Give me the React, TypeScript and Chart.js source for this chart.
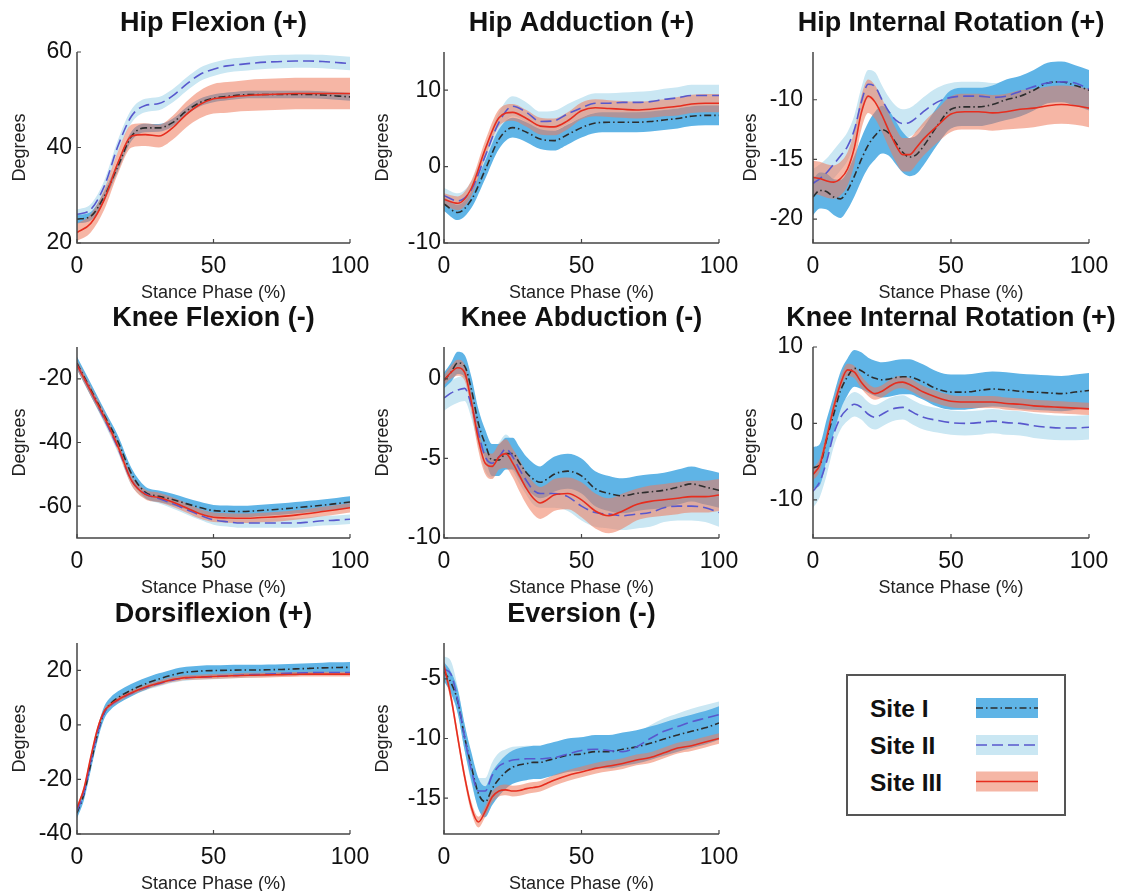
import React, { useEffect, useRef } from "react";
import { Chart, registerables } from "chart.js";

Chart.register(...registerables);
const FONT_FAMILY = "'Liberation Sans', Arial, Helvetica, sans-serif";
Chart.defaults.font.family = FONT_FAMILY;

// ---------- x grids ----------
const X5 = [0, 5, 10, 15, 20, 25, 30, 35, 40, 45, 50, 55, 60, 65, 70, 75, 80, 85, 90, 95, 100];
const XF = [0, 2.5, 5, 7.5, 10, 12.5, 15, 17.5, 20, 22.5, 25, 27.5, 30, 32.5, 35, 37.5, 40, 45, 50, 55, 60, 65, 70, 75, 80, 85, 90, 95, 100];
const X_TICKS = [0, 50, 100];

// ---------- Hip Flexion (X5) ----------
const HF_I = [25.0, 25.6, 29.8, 36.1, 42.4, 44.1, 44.1, 45.2, 47.6, 49.4, 50.3, 50.7, 51.0, 51.1, 51.1, 51.1, 51.1, 51.1, 51.0, 50.8, 50.6];
const HF_I_SD = [0.9, 0.9, 1.0, 1.0, 1.0, 0.9, 0.8, 0.8, 0.8, 0.8, 0.8, 0.8, 0.8, 0.8, 0.8, 0.8, 0.8, 0.8, 0.8, 0.8, 0.8];
const HF_II = [26.0, 27.0, 31.9, 40.3, 46.6, 48.8, 49.2, 50.8, 53.2, 55.3, 56.4, 57.1, 57.4, 57.7, 57.9, 58.0, 58.1, 58.1, 58.0, 57.8, 57.6];
const HF_II_SD = [1.0, 1.1, 1.2, 1.3, 1.4, 1.4, 1.4, 1.4, 1.4, 1.4, 1.4, 1.4, 1.4, 1.4, 1.4, 1.4, 1.4, 1.4, 1.4, 1.4, 1.4];
const HF_III = [22.2, 24.1, 29.1, 36.8, 42.4, 42.7, 42.4, 44.1, 46.9, 49.0, 50.2, 50.5, 50.8, 51.0, 51.1, 51.2, 51.3, 51.3, 51.3, 51.3, 51.3];
const HF_III_SD = [1.8, 1.9, 2.1, 2.3, 2.4, 2.4, 2.4, 2.5, 2.7, 2.9, 3.1, 3.2, 3.2, 3.3, 3.3, 3.3, 3.3, 3.3, 3.3, 3.3, 3.3];

// ---------- Hip Adduction (X5) ----------
const HA_I = [-4.9, -6.0, -4.3, -0.4, 3.6, 5.1, 4.5, 3.6, 3.4, 4.2, 5.1, 5.7, 5.8, 5.8, 5.8, 5.9, 6.1, 6.3, 6.6, 6.7, 6.7];
const HA_I_SD = [0.9, 1.0, 1.1, 1.2, 1.3, 1.3, 1.3, 1.3, 1.3, 1.3, 1.3, 1.3, 1.3, 1.3, 1.3, 1.3, 1.3, 1.3, 1.3, 1.3, 1.3];
const HA_II = [-3.8, -4.5, -3.0, 1.4, 5.8, 7.9, 7.1, 5.9, 6.0, 6.9, 7.7, 8.3, 8.3, 8.4, 8.4, 8.5, 8.8, 9.0, 9.3, 9.3, 9.3];
const HA_II_SD = [1.0, 1.0, 1.1, 1.2, 1.3, 1.3, 1.3, 1.3, 1.3, 1.3, 1.3, 1.3, 1.3, 1.3, 1.4, 1.4, 1.4, 1.4, 1.4, 1.4, 1.4];
const HA_III = [-4.3, -4.8, -2.8, 2.3, 6.4, 7.1, 6.3, 5.3, 5.2, 6.0, 7.3, 7.7, 7.6, 7.5, 7.4, 7.5, 7.7, 7.9, 8.2, 8.3, 8.3];
const HA_III_SD = [0.8, 0.9, 1.0, 1.1, 1.1, 1.1, 1.1, 1.1, 1.1, 1.1, 1.1, 1.1, 1.1, 1.1, 1.1, 1.1, 1.1, 1.2, 1.2, 1.2, 1.2];

// ---------- Hip Internal Rotation (XF) ----------
const HR_I = [-18.15, -17.6, -17.7, -18.15, -18.3, -17.6, -16.4, -15.0, -13.8, -13.0, -12.5, -12.8, -13.6, -14.4, -14.8, -14.6, -13.9, -12.2, -10.8, -10.6, -10.6, -10.4, -10.0, -9.7, -9.2, -8.6, -8.5, -8.8, -9.2];
const HR_I_SD = [1.5, 1.5, 1.5, 1.5, 1.6, 1.6, 1.7, 1.8, 1.9, 2.0, 2.0, 1.9, 1.8, 1.7, 1.6, 1.6, 1.6, 1.6, 1.6, 1.6, 1.6, 1.6, 1.7, 1.7, 1.7, 1.7, 1.7, 1.7, 1.7];
const HR_II = [-17.0, -16.6, -16.1, -15.4, -14.7, -13.9, -12.5, -10.2, -8.7, -8.9, -10.0, -11.0, -11.7, -12.0, -11.9, -11.5, -11.0, -10.2, -9.8, -9.7, -9.7, -9.8, -9.7, -9.3, -8.9, -8.6, -8.5, -8.6, -9.1];
const HR_II_SD = [1.2, 1.2, 1.2, 1.2, 1.2, 1.2, 1.2, 1.2, 1.2, 1.2, 1.2, 1.2, 1.2, 1.2, 1.2, 1.2, 1.2, 1.2, 1.2, 1.2, 1.2, 1.2, 1.2, 1.2, 1.2, 1.2, 1.2, 1.2, 1.2];
const HR_III = [-16.5, -16.6, -16.8, -16.9, -16.6, -15.8, -14.0, -11.1, -9.7, -10.2, -11.3, -12.6, -13.8, -14.6, -14.6, -14.0, -13.3, -12.2, -11.2, -11.0, -11.0, -11.1, -11.0, -10.8, -10.7, -10.5, -10.4, -10.5, -10.7];
const HR_III_SD = [1.4, 1.4, 1.4, 1.4, 1.4, 1.4, 1.4, 1.4, 1.4, 1.4, 1.4, 1.4, 1.4, 1.4, 1.4, 1.4, 1.4, 1.4, 1.5, 1.5, 1.5, 1.5, 1.5, 1.6, 1.6, 1.6, 1.6, 1.6, 1.6];

// ---------- Knee Flexion (X5) ----------
const KF_I = [-15.1, -23.3, -31.5, -39.7, -49.9, -55.6, -56.9, -57.9, -59.2, -60.4, -61.4, -61.6, -61.7, -61.5, -61.2, -60.9, -60.5, -60.1, -59.7, -59.2, -58.7];
const KF_I_SD = [2.0, 2.0, 1.9, 1.9, 1.8, 1.8, 1.8, 1.8, 1.8, 1.8, 1.8, 1.8, 1.8, 1.8, 1.8, 1.8, 1.8, 1.8, 1.8, 1.8, 1.8];
const KF_II = [-15.6, -23.8, -32.5, -41.7, -52.0, -56.1, -57.6, -59.2, -61.0, -62.8, -64.3, -64.9, -65.3, -65.3, -65.3, -65.3, -65.3, -65.0, -64.6, -64.4, -64.1];
const KF_II_SD = [1.5, 1.5, 1.5, 1.5, 1.5, 1.5, 1.5, 1.5, 1.5, 1.5, 1.5, 1.5, 1.5, 1.5, 1.5, 1.5, 1.5, 1.5, 1.5, 1.5, 1.5];
const KF_III = [-15.6, -23.8, -32.0, -41.2, -52.0, -56.3, -57.3, -58.7, -60.5, -62.4, -63.5, -63.7, -63.8, -63.7, -63.5, -63.2, -62.8, -62.3, -61.7, -61.1, -60.5];
const KF_III_SD = [1.5, 1.5, 1.5, 1.5, 1.5, 1.5, 1.5, 1.5, 1.5, 1.5, 1.5, 1.5, 1.5, 1.5, 1.5, 1.5, 1.5, 1.5, 1.5, 1.5, 1.5];

// ---------- Knee Abduction (XF) ----------
const KA_I = [-0.1, 0.4, 1.0, 0.8, -0.7, -2.8, -4.1, -5.1, -5.1, -4.7, -4.7, -5.3, -5.9, -6.3, -6.5, -6.3, -6.0, -5.8, -6.1, -6.9, -7.2, -7.35, -7.2, -7.1, -7.0, -6.8, -6.6, -6.8, -7.0];
const KA_I_SD = [0.5, 0.6, 0.7, 0.7, 0.8, 0.9, 0.9, 1.0, 1.0, 1.0, 1.0, 1.0, 1.0, 1.0, 1.0, 1.1, 1.1, 1.1, 1.1, 1.1, 1.1, 1.1, 1.1, 1.1, 1.1, 1.1, 1.1, 1.1, 1.1];
const KA_II = [-1.2, -0.9, -0.7, -0.6, -1.7, -3.4, -4.9, -5.3, -4.9, -4.4, -4.9, -5.7, -6.4, -7.0, -7.2, -7.2, -7.2, -7.4, -8.0, -8.4, -8.5, -8.6, -8.5, -8.4, -8.1, -8.0, -8.0, -8.1, -8.4];
const KA_II_SD = [0.8, 0.8, 0.8, 0.8, 0.8, 0.8, 0.9, 0.9, 0.9, 0.9, 0.9, 0.9, 0.9, 0.9, 0.9, 0.9, 0.9, 0.9, 0.9, 0.9, 0.9, 0.9, 0.9, 0.9, 0.9, 0.9, 0.9, 0.9, 0.9];
const KA_III = [-0.1, 0.4, 0.7, 0.4, -1.5, -3.8, -5.3, -5.5, -4.9, -4.7, -5.3, -6.1, -6.9, -7.5, -7.8, -7.6, -7.3, -7.2, -7.6, -8.3, -8.6, -8.3, -7.9, -7.7, -7.6, -7.5, -7.4, -7.4, -7.3];
const KA_III_SD = [0.3, 0.4, 0.5, 0.5, 0.6, 0.7, 0.7, 0.8, 0.8, 0.9, 0.9, 1.0, 1.0, 1.0, 1.0, 1.0, 1.0, 1.0, 1.1, 1.1, 1.1, 1.1, 1.0, 1.0, 1.0, 1.0, 1.0, 1.0, 1.0];

// ---------- Knee Internal Rotation (XF) ----------
const KR_I = [-5.8, -5.4, -2.0, 1.2, 4.3, 6.1, 7.2, 6.9, 6.3, 5.9, 5.7, 5.8, 6.0, 6.1, 6.1, 5.8, 5.4, 4.5, 4.1, 4.1, 4.3, 4.5, 4.4, 4.2, 4.1, 4.0, 3.9, 4.1, 4.3];
const KR_I_SD = [2.7, 2.7, 2.6, 2.5, 2.5, 2.4, 2.4, 2.4, 2.3, 2.3, 2.3, 2.3, 2.3, 2.3, 2.3, 2.3, 2.3, 2.3, 2.3, 2.3, 2.3, 2.3, 2.3, 2.3, 2.3, 2.3, 2.3, 2.3, 2.3];
const KR_II = [-8.9, -7.6, -4.9, -1.4, 0.8, 1.9, 2.5, 2.1, 1.2, 0.8, 1.2, 1.7, 2.0, 2.1, 1.7, 1.2, 0.8, 0.4, 0.1, 0.0, 0.1, 0.3, 0.1, 0.0, -0.3, -0.5, -0.6, -0.6, -0.5];
const KR_II_SD = [2.2, 2.0, 1.8, 1.7, 1.6, 1.6, 1.6, 1.6, 1.6, 1.6, 1.6, 1.6, 1.6, 1.6, 1.6, 1.6, 1.6, 1.6, 1.6, 1.6, 1.6, 1.6, 1.6, 1.6, 1.6, 1.6, 1.6, 1.6, 1.6];
const KR_III = [-6.7, -5.4, -1.8, 2.1, 5.2, 7.0, 6.7, 5.4, 4.4, 3.9, 4.2, 4.8, 5.3, 5.4, 5.1, 4.6, 4.1, 3.4, 2.9, 2.8, 2.8, 2.8, 2.6, 2.5, 2.3, 2.2, 2.1, 2.0, 1.9];
const KR_III_SD = [0.8, 0.8, 0.8, 0.8, 0.8, 0.8, 0.8, 0.8, 0.8, 0.8, 0.8, 0.8, 0.8, 0.8, 0.8, 0.8, 0.8, 0.8, 0.8, 0.8, 0.8, 0.8, 0.8, 0.8, 0.8, 0.8, 0.8, 0.8, 0.8];

// ---------- Dorsiflexion (XF) ----------
const DF_I = [-32.3, -25.5, -14.5, -3.5, 4.5, 8.0, 10.0, 11.5, 12.8, 14.0, 15.0, 16.0, 16.8, 17.6, 18.3, 18.9, 19.3, 19.7, 19.9, 20.0, 20.1, 20.1, 20.2, 20.3, 20.5, 20.7, 20.9, 21.0, 21.1];
const DF_I_SD = [2.0, 2.2, 2.4, 2.4, 2.3, 2.3, 2.3, 2.3, 2.3, 2.2, 2.2, 2.1, 2.1, 2.0, 2.0, 2.0, 2.0, 2.0, 1.9, 1.9, 1.9, 1.9, 1.9, 1.9, 1.9, 1.9, 1.9, 1.9, 1.9];
const DF_II = [-31.5, -25.0, -13.5, -3.0, 4.5, 7.3, 9.0, 10.4, 11.6, 12.7, 13.6, 14.4, 15.1, 15.8, 16.4, 16.9, 17.2, 17.5, 17.7, 18.0, 18.2, 18.4, 18.6, 18.8, 19.0, 19.1, 19.2, 19.2, 19.2];
const DF_II_SD = [1.0, 1.0, 1.0, 1.0, 1.0, 1.0, 1.0, 1.0, 1.0, 1.0, 1.0, 1.0, 1.0, 1.0, 1.0, 1.0, 1.0, 1.0, 1.0, 1.0, 1.0, 1.0, 1.0, 1.0, 1.0, 1.0, 1.0, 1.0, 1.0];
const DF_III = [-30.5, -23.5, -12.0, -1.5, 5.0, 7.6, 9.2, 10.6, 11.8, 12.9, 13.8, 14.6, 15.3, 16.0, 16.6, 17.0, 17.3, 17.5, 17.7, 17.9, 18.1, 18.2, 18.3, 18.4, 18.5, 18.6, 18.6, 18.6, 18.6];
const DF_III_SD = [0.9, 0.9, 0.9, 0.9, 0.9, 0.9, 0.9, 0.9, 0.9, 0.9, 0.9, 0.9, 0.9, 0.9, 0.9, 0.9, 0.9, 0.9, 0.9, 0.9, 0.9, 0.9, 0.9, 0.9, 0.9, 0.9, 0.9, 0.9, 0.9];

// ---------- Eversion (XF) ----------
const EV_I = [-4.4, -5.3, -6.9, -9.9, -12.4, -14.6, -15.3, -14.2, -13.4, -12.8, -12.4, -12.2, -12.1, -12.0, -12.0, -11.85, -11.7, -11.4, -11.3, -11.1, -11.1, -10.9, -10.7, -10.4, -10.05, -9.7, -9.4, -9.1, -8.7];
const EV_I_SD = [0.8, 0.9, 1.0, 1.1, 1.2, 1.3, 1.3, 1.4, 1.4, 1.4, 1.4, 1.4, 1.4, 1.4, 1.4, 1.4, 1.4, 1.4, 1.4, 1.4, 1.4, 1.4, 1.4, 1.4, 1.4, 1.4, 1.4, 1.4, 1.4];
const EV_II = [-4.2, -4.6, -6.8, -9.9, -12.7, -14.4, -14.4, -13.1, -12.3, -12.0, -11.8, -11.75, -11.7, -11.7, -11.7, -11.65, -11.6, -11.3, -11.0, -10.9, -11.0, -11.1, -10.7, -10.0, -9.4, -9.0, -8.6, -8.3, -8.0];
const EV_II_SD = [1.1, 1.1, 1.1, 1.1, 1.1, 1.1, 1.1, 1.1, 1.1, 1.1, 1.1, 1.1, 1.1, 1.1, 1.1, 1.1, 1.1, 1.1, 1.1, 1.1, 1.1, 1.1, 1.1, 1.1, 1.1, 1.1, 1.1, 1.1, 1.1];
const EV_III = [-3.9, -6.5, -9.9, -13.2, -15.8, -17.0, -16.1, -14.9, -14.4, -14.3, -14.4, -14.35, -14.2, -14.1, -14.0, -13.75, -13.5, -13.1, -12.8, -12.5, -12.3, -12.1, -11.8, -11.6, -11.2, -10.8, -10.6, -10.3, -10.0];
const EV_III_SD = [0.45, 0.45, 0.45, 0.45, 0.45, 0.45, 0.45, 0.45, 0.45, 0.45, 0.45, 0.45, 0.45, 0.45, 0.45, 0.45, 0.45, 0.45, 0.45, 0.45, 0.45, 0.45, 0.45, 0.45, 0.45, 0.45, 0.45, 0.45, 0.45];

// ---------- panel titles and y ticks ----------
const TITLES = [
  "Hip Flexion (+)", "Hip Adduction (+)", "Hip Internal Rotation (+)",
  "Knee Flexion (-)", "Knee Abduction (-)", "Knee Internal Rotation (+)",
  "Dorsiflexion (+)", "Eversion (-)",
];
const Y_TICKS = [
  [20, 40, 60], [-10, 0, 10], [-20, -15, -10],
  [-60, -40, -20], [-10, -5, 0], [-10, 0, 10],
  [-40, -20, 0, 20], [-15, -10, -5],
];
const Y_RANGES = [
  [20, 60], [-10, 15], [-22, -6],
  [-70, -10], [-10, 2], [-15, 10],
  [-40, 30], [-18, -2],
];
const SITE_NAMES = ["Site I", "Site II", "Site III"];
const X_LABEL = "Stance Phase (%)";
const Y_LABEL = "Degrees";

// ---------- styles ----------
const BAND1 = "rgb(95,180,230)";
const BAND2 = "rgb(202,231,243)";
const BAND3 = "rgba(239,122,91,0.55)";
const BAND3_SOLID = "rgb(245,182,165)";
const LINE1 = "rgb(45,45,45)";
const LINE2 = "rgb(88,88,205)";
const LINE3 = "rgb(230,45,30)";
const DASH1 = [7, 3, 1.5, 3];
const DASH2 = [11, 5];
const AXIS_COLOR = "rgb(70,70,70)";
const TEXT_COLOR = "#111";

// layout constants
const ROW_TOP = [0, 295, 591];
const COL_LEFT = [9, 372, 740];
const Y_AXIS_W = [68, 72, 73];
const Y_TICK_PAD = [5, 3, 10];
const PLOT_W = [273, 275, 276];
const TITLE_H = 52;
const TITLE_CY = 24;
const PLOT_H = 191;
const X_AXIS_H = 62;
const RIGHT_PAD = 30;

type Series = { mean: number[]; sd: number[] };
type PanelCfg = { idx: number; x: number[]; s: Series[] };

const PANELS: PanelCfg[] = [
  { idx: 0, x: X5, s: [{ mean: HF_I, sd: HF_I_SD }, { mean: HF_II, sd: HF_II_SD }, { mean: HF_III, sd: HF_III_SD }] },
  { idx: 1, x: X5, s: [{ mean: HA_I, sd: HA_I_SD }, { mean: HA_II, sd: HA_II_SD }, { mean: HA_III, sd: HA_III_SD }] },
  { idx: 2, x: XF, s: [{ mean: HR_I, sd: HR_I_SD }, { mean: HR_II, sd: HR_II_SD }, { mean: HR_III, sd: HR_III_SD }] },
  { idx: 3, x: X5, s: [{ mean: KF_I, sd: KF_I_SD }, { mean: KF_II, sd: KF_II_SD }, { mean: KF_III, sd: KF_III_SD }] },
  { idx: 4, x: XF, s: [{ mean: KA_I, sd: KA_I_SD }, { mean: KA_II, sd: KA_II_SD }, { mean: KA_III, sd: KA_III_SD }] },
  { idx: 5, x: XF, s: [{ mean: KR_I, sd: KR_I_SD }, { mean: KR_II, sd: KR_II_SD }, { mean: KR_III, sd: KR_III_SD }] },
  { idx: 6, x: XF, s: [{ mean: DF_I, sd: DF_I_SD }, { mean: DF_II, sd: DF_II_SD }, { mean: DF_III, sd: DF_III_SD }] },
  { idx: 7, x: XF, s: [{ mean: EV_I, sd: EV_I_SD }, { mean: EV_II, sd: EV_II_SD }, { mean: EV_III, sd: EV_III_SD }] },
];

const pts = (x: number[], y: number[]) => x.map((v, i) => ({ x: v, y: y[i] }));
const lowerOf = (s: Series) => s.mean.map((m, i) => m - s.sd[i]);
const upperOf = (s: Series) => s.mean.map((m, i) => m + s.sd[i]);

// MATLAB-style axes: left + bottom lines with inward ticks
const axesPlugin = {
  id: "matlabAxes",
  afterDatasetsDraw(chart: any) {
    const { ctx, chartArea, scales } = chart;
    const xs = scales.x;
    const ys = scales.y;
    ctx.save();
    ctx.strokeStyle = AXIS_COLOR;
    ctx.lineWidth = 1.5;
    ctx.setLineDash([]);
    ctx.beginPath();
    ctx.moveTo(chartArea.left, chartArea.top);
    ctx.lineTo(chartArea.left, chartArea.bottom);
    ctx.lineTo(chartArea.right, chartArea.bottom);
    ctx.stroke();
    ctx.lineWidth = 1.2;
    ctx.beginPath();
    xs.ticks.forEach((t: any) => {
      const px = xs.getPixelForValue(t.value);
      ctx.moveTo(px, chartArea.bottom);
      ctx.lineTo(px, chartArea.bottom - 4);
    });
    ys.ticks.forEach((t: any) => {
      const py = ys.getPixelForValue(t.value);
      ctx.moveTo(chartArea.left, py);
      ctx.lineTo(chartArea.left + 4, py);
    });
    ctx.stroke();
    ctx.restore();
  },
};

// Panel title centred over the plot area, not squeezed to its width
const panelTitlePlugin = {
  id: "panelTitle",
  afterDraw(chart: any, _args: any, opts: any) {
    const { ctx, chartArea } = chart;
    ctx.save();
    ctx.font = `bold 27px ${FONT_FAMILY}`;
    ctx.fillStyle = TEXT_COLOR;
    ctx.textAlign = "center";
    ctx.textBaseline = "middle";
    ctx.fillText(opts.text, (chartArea.left + chartArea.right) / 2, TITLE_CY);
    ctx.restore();
  },
};

function Panel({ cfg }: { cfg: PanelCfg }) {
  const ref = useRef<HTMLCanvasElement>(null);
  const row = Math.floor(cfg.idx / 3);
  const col = cfg.idx % 3;
  const W = Y_AXIS_W[col];
  const width = W + PLOT_W[col] + RIGHT_PAD;
  const height = TITLE_H + PLOT_H + X_AXIS_H;

  useEffect(() => {
    const [s1, s2, s3] = cfg.s;
    const x = cfg.x;
    const common = { pointRadius: 0, pointHoverRadius: 0, cubicInterpolationMode: "monotone" as const };
    const lineDs = (label: string, s: Series, color: string, dash: number[]) => ({
      ...common, label, data: pts(x, s.mean), borderColor: color, borderWidth: 1.6, borderDash: dash, fill: false,
    });
    const lo = (s: Series) => ({ ...common, label: "", data: pts(x, lowerOf(s)), borderColor: "transparent", borderWidth: 0, fill: false });
    const hi = (s: Series, c: string) => ({ ...common, label: "", data: pts(x, upperOf(s)), borderColor: "transparent", borderWidth: 0, fill: "-1", backgroundColor: c });

    const chart = new Chart(ref.current as HTMLCanvasElement, {
      type: "line",
      data: {
        datasets: [
          lineDs(SITE_NAMES[2], s3, LINE3, []),
          lineDs(SITE_NAMES[1], s2, LINE2, DASH2),
          lineDs(SITE_NAMES[0], s1, LINE1, DASH1),
          lo(s3), hi(s3, BAND3),
          lo(s1), hi(s1, BAND1),
          lo(s2), hi(s2, BAND2),
        ] as any,
      },
      options: {
        animation: false,
        responsive: false,
        events: [],
        layout: { padding: { left: 0, right: RIGHT_PAD, top: TITLE_H, bottom: 0 } },
        plugins: {
          legend: { display: false },
          tooltip: { enabled: false },
          title: { display: false },
          filler: { drawTime: "beforeDatasetsDraw" },
          panelTitle: { text: TITLES[cfg.idx] },
        },
        scales: {
          x: {
            type: "linear",
            min: 0,
            max: 100,
            afterBuildTicks: (s: any) => { s.ticks = X_TICKS.map((v) => ({ value: v })); },
            afterFit: (s: any) => { s.height = X_AXIS_H; },
            grid: { display: false, drawTicks: false },
            border: { display: false },
            ticks: { padding: 10, color: TEXT_COLOR, font: { size: 23 }, maxRotation: 0, autoSkip: false },
            title: { display: true, text: X_LABEL, color: "#222", font: { size: 18 }, padding: { top: 0, bottom: 1 } },
          },
          y: {
            type: "linear",
            min: Y_RANGES[cfg.idx][0],
            max: Y_RANGES[cfg.idx][1],
            afterBuildTicks: (s: any) => { s.ticks = Y_TICKS[cfg.idx].map((v) => ({ value: v })); },
            afterFit: (s: any) => { s.width = W; },
            grid: { display: false, drawTicks: false },
            border: { display: false },
            ticks: { padding: Y_TICK_PAD[col], color: TEXT_COLOR, font: { size: 23 }, autoSkip: false },
            title: { display: true, text: Y_LABEL, color: "#222", font: { size: 18 }, padding: { top: 0, bottom: 0 } },
          },
        },
      } as any,
      plugins: [axesPlugin, panelTitlePlugin],
    });
    return () => chart.destroy();
  }, []);

  return (
    <canvas
      ref={ref}
      width={width}
      height={height}
      style={{ position: "absolute", left: COL_LEFT[col], top: ROW_TOP[row], width, height }}
    />
  );
}

function Legend() {
  const rows = [
    { name: SITE_NAMES[0], band: BAND1, line: LINE1, dash: DASH1.join(" "), cy: 708, base: 716.7 },
    { name: SITE_NAMES[1], band: BAND2, line: LINE2, dash: DASH2.join(" "), cy: 745, base: 754 },
    { name: SITE_NAMES[2], band: BAND3_SOLID, line: LINE3, dash: "none", cy: 781.5, base: 790.7 },
  ];
  const L = 846, T = 674;
  return (
    <svg style={{ position: "absolute", left: L, top: T }} width={222} height={144}>
      <rect x={1} y={1} width={218} height={140} fill="#fff" stroke="rgb(85,85,85)" strokeWidth={2} />
      {rows.map((r) => (
        <g key={r.name}>
          <text x={870 - L} y={r.base - T} fontFamily={FONT_FAMILY} fontWeight="bold" fontSize={24.5} fill={TEXT_COLOR}>
            {r.name}
          </text>
          <rect x={976 - L} y={r.cy - 10 - T} width={62} height={20} fill={r.band} />
          <line x1={976 - L} x2={1038 - L} y1={r.cy - T} y2={r.cy - T} stroke={r.line} strokeWidth={1.6} strokeDasharray={r.dash} />
        </g>
      ))}
    </svg>
  );
}

export default function App() {
  return (
    <div style={{ position: "absolute", left: 0, top: 0, width: 1125, height: 891, background: "#fff", overflow: "hidden" }}>
      {PANELS.map((p) => (
        <Panel key={p.idx} cfg={p} />
      ))}
      <Legend />
    </div>
  );
}
